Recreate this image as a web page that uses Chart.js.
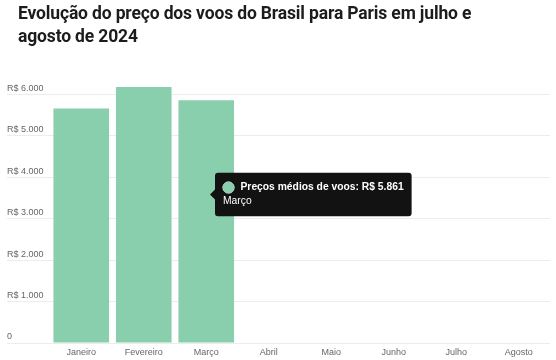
<!DOCTYPE html>
<html>
<head>
<meta charset="utf-8">
<script src="https://cdn.jsdelivr.net/npm/chart.js@4.4.1/dist/chart.umd.min.js"></script>
<style>
  html, body { margin: 0; padding: 0; background: #ffffff; width: 556px; height: 360px; overflow: hidden; }
  #wrap { position: absolute; left: 0; top: 0; width: 556px; height: 360px; }
  #title { position: absolute; left: 18px; top: 2px; margin: 0; font-family: Roboto, "Liberation Sans", sans-serif; font-weight: 700; font-size: 17.5px; line-height: 23px; color: #1c1c1c; letter-spacing: -0.15px; }
</style>
</head>
<body>
<div id="wrap"><canvas id="c" width="556" height="360"></canvas></div>
<h1 id="title">Evolução do preço dos voos do Brasil para Paris em julho e<br>agosto de 2024</h1>
<script>
const categories = ['Janeiro', 'Fevereiro', 'Março', 'Abril', 'Maio', 'Junho', 'Julho', 'Agosto'];
const precosMedios = [5660, 6180, 5861, null, null, null, null, null];
const seriesLabel = 'Preços médios de voos';
const yTickValues = [0, 1000, 2000, 3000, 4000, 5000, 6000];

function fmtBRL(v) {
  return String(Math.round(v)).replace(/\B(?=(\d{3})+(?!\d))/g, '.');
}

Chart.Tooltip.positioners.atEvent = function (items, eventPosition) {
  return { x: eventPosition.x, y: eventPosition.y };
};

const barColor = '#89cead';
const gridColor = '#ececec';
const fontFamily = "'Liberation Sans', Arial, Helvetica, sans-serif";

const chart = new Chart(document.getElementById('c'), {
  type: 'bar',
  data: {
    labels: categories,
    datasets: [{
      label: seriesLabel,
      data: precosMedios,
      backgroundColor: barColor,
      hoverBackgroundColor: barColor,
      borderColor: barColor,
      borderWidth: 0,
      barPercentage: 0.89,
      categoryPercentage: 1.0
    }]
  },
  options: {
    responsive: false,
    animation: false,
    events: [],
    layout: { padding: { top: 87, left: 7, right: 6, bottom: 2 } },
    plugins: {
      legend: { display: false },
      title: { display: false },
      tooltip: {
        enabled: true,
        position: 'atEvent',
        xAlign: 'left',
        yAlign: 'center',
        backgroundColor: '#121212',
        cornerRadius: 3,
        padding: { left: 8, right: 8, top: 8.5, bottom: 8.5 },
        caretSize: 5,
        caretPadding: 2,
        displayColors: true,
        usePointStyle: true,
        boxWidth: 11,
        boxHeight: 11,
        boxPadding: 4.5,
        bodyColor: '#ffffff',
        footerColor: '#ffffff',
        bodyFont: { family: fontFamily, size: 10.3, weight: 'bold', lineHeight: 1.2 },
        footerFont: { family: fontFamily, size: 10.3, weight: 'normal', lineHeight: 1.2 },
        footerMarginTop: 1.6,
        callbacks: {
          title: () => '',
          label: (ctx) => seriesLabel + ': R$ ' + fmtBRL(ctx.raw),
          footer: (items) => items.length ? items[0].label : '',
          labelColor: () => ({ backgroundColor: barColor, borderColor: barColor, borderWidth: 0 }),
          labelPointStyle: () => ({ pointStyle: 'circle', rotation: 0 })
        }
      }
    },
    scales: {
      x: {
        grid: { display: false, drawTicks: false, tickLength: 0 },
        border: { display: false },
        ticks: { color: '#666666', font: { family: fontFamily, size: 9 }, padding: 4, maxRotation: 0 },
        afterFit: (s) => { s.height = 15; s.paddingLeft = 0; s.paddingRight = 0; }
      },
      y: {
        beginAtZero: true,
        bounds: 'data',
        afterBuildTicks: (s) => { s.ticks = yTickValues.map(v => ({ value: v })); },
        grid: { color: gridColor, tickColor: gridColor, lineWidth: 1, drawTicks: true, tickLength: 43 },
        border: { display: false },
        ticks: {
          color: '#666666',
          font: { family: fontFamily, size: 9 },
          crossAlign: 'far',
          labelOffset: -6,
          padding: 0,
          callback: (v) => v === 0 ? '0' : 'R$ ' + fmtBRL(v)
        },
        afterFit: (s) => { s.width = 43; s.paddingTop = 0; s.paddingBottom = 0; }
      }
    }
  }
});

chart.tooltip.setActiveElements([{ datasetIndex: 0, index: 2 }], { x: 208, y: 194.5 });
chart.update('none');
</script>
</body>
</html>
